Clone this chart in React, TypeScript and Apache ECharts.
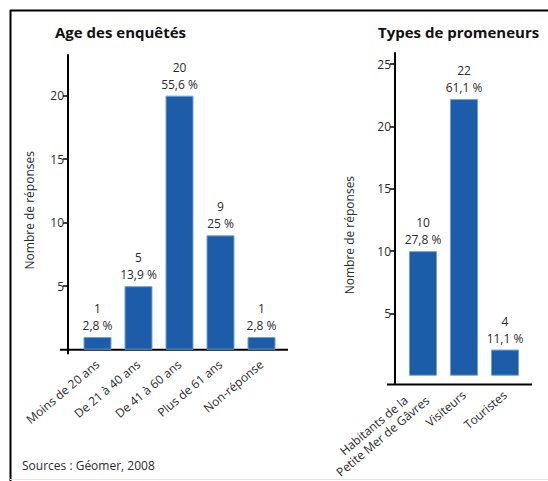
import React, { useEffect, useRef } from "react";
import * as echarts from "echarts";

const ageCategories = ["Moins de 20 ans", "De 21 à 40 ans", "De 41 à 60 ans", "Plus de 61 ans", "Non-réponse"];
const ageValues = [1, 5, 20, 9, 1];
const agePercents = ["2,8 %", "13,9 %", "55,6 %", "25 %", "2,8 %"];

const typeCategories = ["Habitants de la\nPetite Mer de Gâvres", "Visiteurs", "Touristes"];
// bar heights as drawn in the picture
const typeValues = [10, 22.2, 2.1];
// counts as printed in the labels
const typeCounts = [10, 22, 4];
const typePercents = ["27,8 %", "61,1 %", "11,1 %"];

const ageTicks = [5, 10, 15, 20];
const typeTicks = [5, 10, 15, 20, 25];

const FONT = "'Open Sans', 'Noto Sans', sans-serif";
const TXT = "#2a2a2a";
const BAR = "#1d5ca8";
const BAR_EDGE = "#6aa3dc";

export default function App() {
  const ref = useRef<HTMLDivElement>(null);
  useEffect(() => {
    if (!ref.current) return;
    const chart = echarts.init(ref.current, undefined, { renderer: "svg" });

    const yAxisCommon = (
      offset: number,
      min: number,
      max: number,
      ticks: number[],
      gap: number,
      shiftDown: number
    ) => ({
      type: "value",
      min,
      max,
      offset,
      name: "Nombre de réponses",
      nameLocation: "middle",
      nameGap: gap,
      nameTextStyle: {
        fontFamily: FONT,
        fontSize: 12,
        color: TXT,
        padding: [0, shiftDown * 2, 0, 0],
      },
      splitLine: { show: false },
      axisLine: { show: true, lineStyle: { color: "#000", width: 2 } },
      axisTick: { show: true, length: 5, customValues: ticks, lineStyle: { color: "#000", width: 1.5 } },
      axisLabel: { customValues: ticks, margin: 4, fontFamily: FONT, fontSize: 12, color: TXT },
    });

    const xAxisCommon = (gridIndex: number, data: string[], margin: number) => ({
      type: "category",
      gridIndex,
      data,
      axisLine: { show: false },
      axisTick: { show: false },
      axisLabel: {
        rotate: 40,
        margin,
        interval: 0,
        fontFamily: FONT,
        fontSize: 12,
        color: TXT,
        lineHeight: 14,
        formatter: (v: string) =>
          v
            .split("\n")
            .map((s) => `{c|${s}}`)
            .join("\n"),
        rich: {
          c: { align: "center", fontFamily: FONT, fontSize: 12, color: TXT, lineHeight: 14 },
        },
      },
    });

    const barSeries = (idx: number, values: number[], counts: number[], pcts: string[]) => ({
      type: "bar",
      xAxisIndex: idx,
      yAxisIndex: idx,
      data: values,
      barWidth: 28,
      itemStyle: { color: BAR, borderColor: BAR_EDGE, borderWidth: 1 },
      label: {
        show: true,
        position: "top",
        distance: 3,
        fontFamily: FONT,
        fontSize: 12,
        lineHeight: 17,
        color: TXT,
        formatter: (p: any) => `${counts[p.dataIndex]}\n${pcts[p.dataIndex]}`,
      },
    });

    chart.setOption({
      animation: false,
      backgroundColor: "#fff",
      title: [
        {
          text: "Age des enquêtés",
          left: 50,
          top: 19,
          textStyle: { fontFamily: FONT, fontSize: 15, fontWeight: "bold", color: "#111" },
        },
        {
          text: "Types de promeneurs",
          left: 373,
          top: 19,
          textStyle: { fontFamily: FONT, fontSize: 15, fontWeight: "bold", color: "#111" },
        },
      ],
      grid: [
        { left: 77, width: 205, top: 55, height: 298.5, containLabel: false },
        { left: 402.5, width: 123, top: 53, height: 339.2, containLabel: false },
      ],
      xAxis: [xAxisCommon(0, ageCategories, 9), xAxisCommon(1, typeCategories, 10)],
      yAxis: [
        { gridIndex: 0, ...yAxisCommon(9, -0.3, 23.2, ageTicks, 33, 6) },
        { gridIndex: 1, ...yAxisCommon(7.5, -0.6, 25.9, typeTicks, 40, 17) },
      ],
      series: [
        barSeries(0, ageValues, ageValues, agePercents),
        barSeries(1, typeValues, typeCounts, typePercents),
      ],
      graphic: [
        { type: "line", shape: { x1: 10, y1: 10.5, x2: 548, y2: 10.5 }, style: { stroke: "#000", lineWidth: 2 } },
        { type: "line", shape: { x1: 10.5, y1: 10, x2: 10.5, y2: 481 }, style: { stroke: "#000", lineWidth: 2 } },
        { type: "line", shape: { x1: 10, y1: 479.5, x2: 548, y2: 479.5 }, style: { stroke: "#e4e4e4", lineWidth: 1 } },
        { type: "line", shape: { x1: 60, y1: 349.7, x2: 288, y2: 349.7 }, style: { stroke: "#000", lineWidth: 2 } },
        { type: "line", shape: { x1: 387, y1: 384.5, x2: 532, y2: 384.5 }, style: { stroke: "#000", lineWidth: 2 } },
        {
          type: "text",
          x: 22,
          y: 465,
          style: {
            text: "Sources : Géomer, 2008",
            fontFamily: FONT,
            fontSize: 12,
            fill: TXT,
            verticalAlign: "middle",
          },
        },
      ],
    });
    return () => chart.dispose();
  }, []);
  return (
    <div
      ref={ref}
      style={{ position: "fixed", left: 0, top: 0, width: 548, height: 481, background: "#fff" }}
    />
  );
}
